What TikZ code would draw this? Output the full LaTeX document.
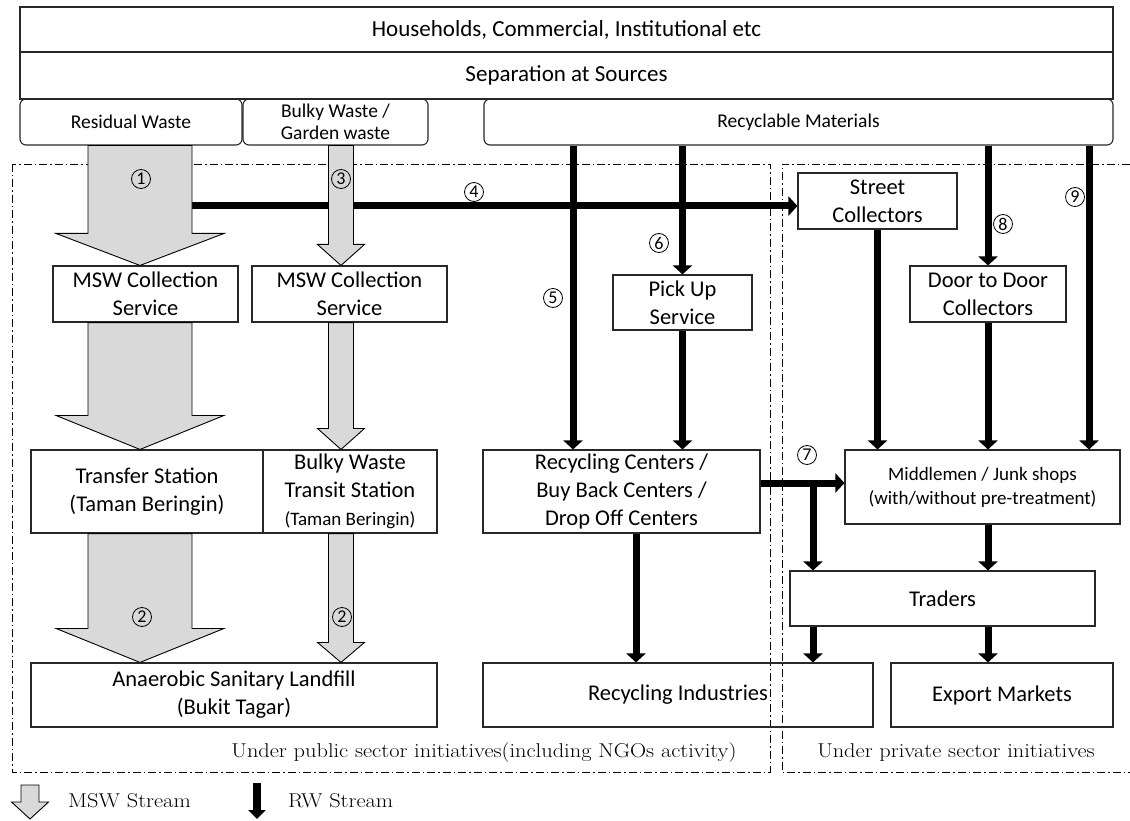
\documentclass[tikz,border=0pt]{standalone}
\usepackage{fontspec}
\newfontfamily\boxfont{Carlito}
\newfontfamily\notefont[FakeStretch=1.12]{Latin Modern Roman}
\usetikzlibrary{arrows.meta,calc}
\definecolor{mswgray}{RGB}{217,217,217}
\definecolor{edge}{RGB}{40,40,40}

% hollow block arrow: top point, tip point, half shaft, half head, head length
\newcommand\blockarrow[5]{%
  \filldraw[msw] ($(#1)+(-#3,0)$) -- ($(#2)+(-#3,-#5)$) -- ($(#2)+(-#4,-#5)$)
    -- (#2) -- ($(#2)+(#4,-#5)$) -- ($(#2)+(#3,-#5)$) -- ($(#1)+(#3,0)$) -- cycle;}

\begin{document}
\begin{tikzpicture}[x=1pt,y=-1pt,
  box/.style={draw=edge,line width=1.1pt,inner sep=0pt,align=center,
    font=\boxfont\fontsize{22.5}{28}\selectfont},
  topbox/.style={box,font=\boxfont\fontsize{23}{28}\selectfont},
  src/.style={box,rounded corners=6pt,font=\boxfont\fontsize{19.5}{22}\selectfont},
  rw/.style={line width=7pt,-{Triangle[width=19pt,length=9pt]}},
  zone/.style={line width=0.8pt,dash pattern=on 8pt off 3pt on 1.5pt off 3pt},
  num/.style={circle,draw=black,line width=0.8pt,inner sep=0pt,minimum size=19pt,
    font=\boxfont\fontsize{18}{18}\selectfont},
  note/.style={font=\notefont\fontsize{20}{24}\selectfont,inner sep=0pt},
  msw/.style={fill=mswgray,draw=black,line width=0.9pt,line join=miter}]

\useasboundingbox (0,0) rectangle (1130,821);

% sources
\node[topbox,minimum width=1093pt,minimum height=45pt] (hh) at (566.5,29.5) {Households, Commercial, Institutional etc};
\node[topbox,minimum width=1093pt,minimum height=47pt] (sep) at (566.5,75.5) {Separation at Sources};
\node[src,minimum width=222pt,minimum height=46pt] (res) at (131,122) {Residual Waste};
\node[src,minimum width=185pt,minimum height=46pt] (bulky) at (335.5,122) {Bulky Waste /\\Garden waste};
\node[src,minimum width=629pt,minimum height=46pt] (recyc) at (798.5,122) {Recyclable Materials};

% zones
\draw[zone] (12,164) rectangle (770,772);
\draw[zone] (1130,164) -- (782,164) -- (782,772) -- (1130,772);
\node[note] (pubnote) at (484,753) {Under public sector initiatives(including NGOs activity)};
\node[note] (privnote) at (956,753) {Under private sector initiatives};

% facilities
\node[box,minimum width=185pt,minimum height=56pt] (msw1) at (145.5,294) {MSW Collection\\Service};
\node[box,minimum width=195pt,minimum height=56pt] (msw2) at (349.5,294) {MSW Collection\\Service};
\node[box,minimum width=139pt,minimum height=55pt] (pick) at (682.5,302.5) {Pick Up\\Service};
\node[box,minimum width=159pt,minimum height=56pt] (street) at (877.5,201) {Street\\Collectors};
\node[box,minimum width=156pt,minimum height=56pt] (door) at (988,294) {Door to Door\\Collectors};
\node[box,minimum width=232pt,minimum height=83pt] (transfer) at (147,491.5) {Transfer Station\\(Taman Beringin)};
\node[box,minimum width=174pt,minimum height=83pt] (transit) at (350,491.5)
  {Bulky Waste\\Transit Station\\{\fontsize{19}{22}\selectfont(Taman Beringin)}};
\node[box,minimum width=277pt,minimum height=83pt] (rc) at (621.5,491.5) {Recycling Centers /\\Buy Back Centers /\\Drop Off Centers};
\node[box,minimum width=275pt,minimum height=74pt,font=\boxfont\fontsize{19}{24}\selectfont] (mid) at (982.5,487)
  {Middlemen / Junk shops\\(with/without pre-treatment)};
\node[box,minimum width=305pt,minimum height=55pt] (traders) at (942.5,598.5) {Traders};
\node[box,minimum width=406pt,minimum height=64pt] (landfill) at (234,695) {Anaerobic Sanitary Landfill\\(Bukit Tagar)};
\node[box,minimum width=390pt,minimum height=64pt] (ri) at (678,695) {Recycling Industries};
\node[box,minimum width=222pt,minimum height=64pt] (export) at (1002,695) {Export Markets};

% stream columns
\coordinate (ax) at (140,0);
\coordinate (bx) at (341,0);
\coordinate (c5) at (573,0);
\coordinate (c7) at (813,0);
\coordinate (c9) at (1089,0);
\coordinate (crc) at (636,0);
\coordinate (y4) at (0,206);
\coordinate (y7) at (0,483);

% RW streams
\draw[rw] (ax |- y4) -- (street.west |- y4);
\draw[rw] (recyc.south -| c5) -- (rc.north -| c5);
\draw[rw] (recyc.south -| pick.north) -- (pick.north);
\draw[rw] (pick.south) -- (rc.north -| pick.south);
\draw[rw] (recyc.south -| door.north) -- (door.north);
\draw[rw] (door.south) -- (mid.north -| door.south);
\draw[rw] (street.south) -- (mid.north -| street.south);
\draw[rw] (recyc.south -| c9) -- (mid.north -| c9);
\draw[rw] (rc.east |- y7) -- (mid.west |- y7);
\draw[rw] (c7 |- y7) -- (traders.north -| c7);
\draw[rw] (traders.south -| c7) -- (ri.north -| c7);
\draw[rw] (mid.south -| door.south) -- (traders.north -| door.south);
\draw[rw] (traders.south -| door.south) -- (export.north -| door.south);
\draw[rw] (rc.south -| crc) -- (ri.north -| crc);

% MSW streams
\blockarrow{res.south -| ax}{msw1.north -| ax}{52}{84}{32}
\blockarrow{msw1.south -| ax}{transfer.north -| ax}{52}{84}{34}
\blockarrow{transfer.south -| ax}{landfill.north -| ax}{52}{84}{34}
\blockarrow{bulky.south -| bx}{msw2.north -| bx}{12.5}{23.5}{21}
\blockarrow{msw2.south -| bx}{transit.north -| bx}{12.5}{23.5}{21}
\blockarrow{transit.south -| bx}{landfill.north -| bx}{12.5}{23.5}{20}

% stream numbers
\node[num] (n1) at (141,179) {1};
\node[num] (n2a) at (142,617) {2};
\node[num] (n2b) at (342,617) {2};
\node[num] (n3) at (341,179) {3};
\node[num] (n4) at (474,192) {4};
\node[num] (n5) at (553,298) {5};
\node[num] (n6) at (659,243) {6};
\node[num] (n7) at (807,455) {7};
\node[num] (n8) at (1003,224) {8};
\node[num] (n9) at (1075,197) {9};

% legend
\coordinate (lgm) at (30,785);
\coordinate (lgmt) at (30,819);
\blockarrow{lgm}{lgmt}{9}{18.5}{17}
\node[note,anchor=west] (lgmtext) at (68,801) {MSW Stream};
\coordinate (lgr) at (257,783);
\coordinate (lgrt) at (257,819);
\draw[line width=8pt,-{Triangle[width=17pt,length=9pt]}] (lgr) -- (lgrt);
\node[note,anchor=west] (lgrtext) at (288,801) {RW Stream};
\end{tikzpicture}
\end{document}
